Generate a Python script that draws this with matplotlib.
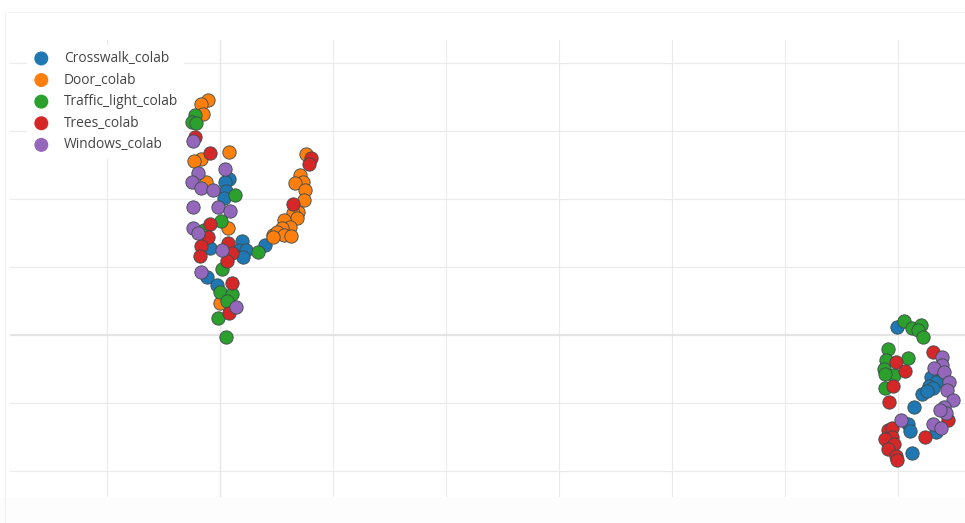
import matplotlib.pyplot as plt
from matplotlib.patches import Rectangle
from matplotlib.lines import Line2D

plt.rcParams['font.family'] = ['Open Sans', 'DejaVu Sans']

# 2-D embedding (arbitrary units, grid every 10)
crosswalk_x = [0.8, 0.4, 0.5, 0.3, -0.9, 1.9, 1.7, 2.3, 2.0, 4.0, -1.2, -0.3,
               59.9, 62.9, 63.3, 62.7, 63.1, 62.1, 62.5, 61.4, 60.9, 61.0, 63.3, 61.2]
crosswalk_y = [23.0, 22.5, 21.2, 20.1, 12.8, 13.9, 12.5, 12.5, 11.5, 13.2, 8.5, 7.4,
               1.2, -6.1, -6.9, -7.5, -7.8, -8.6, -8.2, -10.6, -13.0, -14.1, -14.2, -17.3]

door_x = [-1.1, -1.7, -1.5, -1.7, -2.3, 0.8, -1.3, 0.7, 0.0, 4.7, 7.6, 7.1, 7.3,
          6.6, 7.5, 7.4, 6.9, 6.4, 6.8, 5.6, 6.2, 5.5, 5.0, 5.6, 4.7, 6.3]
door_y = [34.6, 34.0, 32.5, 25.9, 25.6, 26.9, 22.5, 15.8, 4.7, 14.7, 26.7, 23.5, 22.5,
          22.3, 21.3, 19.9, 18.1, 18.0, 17.2, 16.9, 15.9, 15.8, 15.2, 14.7, 14.5, 14.6]

traffic_light_x = [-2.2, -2.5, -2.1, 1.3, 0.1, -1.4, 3.3, 0.2, 0.0, 1.0, 0.6, -0.2, 0.5,
                   60.5, 61.2, 62.0, 61.7, 62.2, 59.1, 60.9, 58.9, 58.7, 59.6, 58.8, 58.8]
traffic_light_y = [32.4, 31.3, 31.2, 20.6, 16.8, 15.5, 12.2, 9.7, 6.3, 6.1, 5.0, 2.5, -0.2,
                   2.1, 1.1, 1.5, 0.8, -0.2, -2.0, -3.3, -3.7, -5.0, -5.9, -5.7, -7.7]

trees_x = [-2.2, -0.9, -0.9, -1.1, -1.7, -1.8, 0.7, 1.0, 0.6, 1.0, 0.8, 8.0, 7.9, 6.4,
           63.1, 59.8, 60.6, 59.5, 59.2, 64.4, 62.4, 59.1, 59.4, 59.4, 58.8, 59.6,
           59.1, 59.8, 59.9]
trees_y = [29.1, 26.8, 16.3, 14.4, 13.1, 11.6, 13.6, 12.1, 10.9, 7.7, 3.3, 26.1, 25.2, 19.3,
           -2.5, -3.9, -5.3, -7.5, -9.8, -12.5, -15.0, -14.0, -13.7, -15.0, -15.2, -16.0,
           -16.7, -17.7, -18.4]

windows_x = [-2.4, -2.0, 0.4, -2.5, -1.7, -0.6, -2.4, -0.2, 0.9, -2.4, -2.0, 0.2, -1.7, 1.4,
             63.9, 63.9, 63.2, 64.0, 64.5, 64.3, 64.8, 64.0, 64.2, 63.7, 60.2, 63.1, 63.8]
windows_y = [28.6, 23.8, 24.4, 22.5, 21.6, 21.3, 18.8, 18.9, 18.3, 15.7, 15.0, 12.5, 9.3, 4.2,
             -3.2, -4.4, -4.9, -5.4, -6.9, -8.0, -9.6, -10.5, -11.5, -11.0, -12.5, -13.1, -13.7]

series = [
    ('Crosswalk_colab', crosswalk_x, crosswalk_y, '#1f77b4'),
    ('Door_colab', door_x, door_y, '#ff7f0e'),
    ('Traffic_light_colab', traffic_light_x, traffic_light_y, '#2ca02c'),
    ('Trees_colab', trees_x, trees_y, '#d62728'),
    ('Windows_colab', windows_x, windows_y, '#9467bd'),
]

W, H = 965, 523
fig = plt.figure(figsize=(W / 100, H / 100), dpi=100)
ax = fig.add_axes([10 / W, 1 - 497 / H, 955 / W, 457 / H])

# faint screenshot frame / lower band
fig.patches.append(Rectangle((0, 0), 1, 1 - 497 / H, transform=fig.transFigure,
                             facecolor='#fdfdfd', edgecolor='none', zorder=-5))
fig.add_artist(Line2D([8 / W, 1], [1 - 12 / H] * 2, color='#f0f0f0', lw=0.8))
fig.add_artist(Line2D([5 / W] * 2, [0, 1 - 12 / H], color='#f0f0f0', lw=0.8))

for name, xs, ys, col in series:
    ax.scatter(xs, ys, s=92, color=col, edgecolors='#3a4a4a', linewidths=0.6,
               label=name, zorder=3)

ax.set_xlim(-18.6, 65.9)
ax.set_ylim(-23.8, 43.4)
ax.set_xticks(range(-10, 70, 10))
ax.set_yticks(range(-20, 50, 10))
ax.tick_params(length=0, labelbottom=False, labelleft=False)
ax.grid(True, color='#ebebeb', lw=0.8)
ax.axhline(0, color='#e4e4e4', lw=1.5, zorder=1)
ax.axvline(0, color='#e8e8e8', lw=1.0, zorder=1)
ax.set_axisbelow(True)
for sp in ax.spines.values():
    sp.set_visible(False)

leg = ax.legend(loc='upper left', bbox_to_anchor=(20 / W, 1 - 38 / H),
                bbox_transform=fig.transFigure, frameon=True, fontsize=9.9,
                labelcolor='#444444', handletextpad=1.05, labelspacing=0.48,
                borderpad=0.45, handlelength=1.2, markerscale=1.05)
leg.get_frame().set_facecolor('white')
leg.get_frame().set_edgecolor('none')
leg.get_frame().set_alpha(1)
leg.get_frame().set_boxstyle('square', pad=0)
for h in leg.legend_handles:
    h.set_edgecolor('none')

fig.savefig('out.png', dpi=100)
